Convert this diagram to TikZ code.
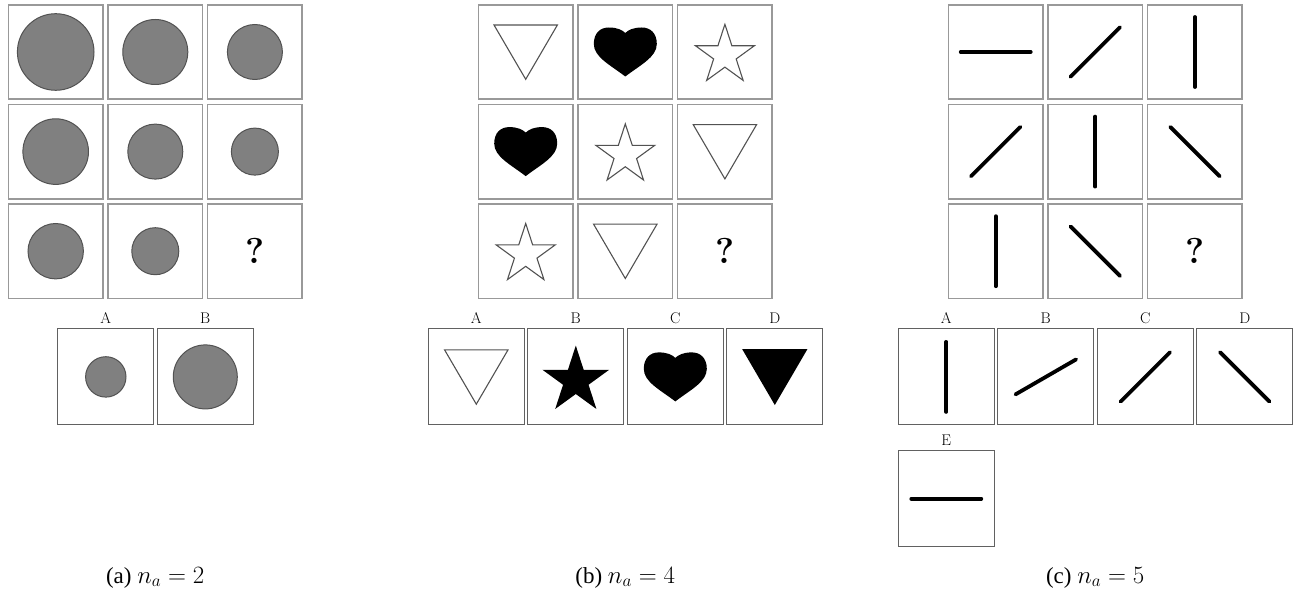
\documentclass[tikz,border=0pt]{standalone}
\usepackage{fontspec}
\newfontfamily\capfont{Liberation Serif}

\newcommand{\drawstick}[2]{\draw[stick] (#1) ++(-#2:35) -- ++(180-#2:70);}

\tikzset{
  cell/.style={draw=black!40, line width=1.6pt, minimum size=94.5pt, inner sep=0pt},
  optbox/.style={draw=black!62, line width=1pt, minimum size=96pt, inner sep=0pt},
  optname/.style={anchor=base, inner sep=0pt, font=\fontsize{15.5}{18}\selectfont},
  qmark/.style={inner sep=0pt, font=\fontsize{36}{40}\selectfont\bfseries},
  caption/.style={anchor=base, inner sep=0pt},
  disc/.style={fill=black!50, draw=black!68, line width=1pt},
  outline/.style={draw=black!68, line width=1.1pt},
  stick/.style={line width=3.8pt, line cap=round},
  tri/.pic={\path[pic actions] (-31.7,-27) -- (31.7,-27) -- (0,27.3) -- cycle;},
  star5/.pic={\path[pic actions, yshift=-3.3pt] (-90:31) -- (-54:11.85) -- (-18:31)
      -- (18:11.85) -- (54:31) -- (90:11.85) -- (126:31) -- (162:11.85)
      -- (198:31) -- (234:11.85) -- cycle;},
  heart/.pic={\path[pic actions] (0,24.5) .. controls (-15,13) and (-31.5,5) .. (-31.5,-8)
      .. controls (-31.5,-19) and (-25,-24.5) .. (-16.5,-24.5)
      .. controls (-8,-24.5) and (-3,-22) .. (0,-19)
      .. controls (3,-22) and (8,-24.5) .. (16.5,-24.5)
      .. controls (25,-24.5) and (31.5,-19) .. (31.5,-8)
      .. controls (31.5,5) and (15,13) .. (0,24.5) -- cycle;}
}

\begin{document}
\begin{tikzpicture}[x=1pt, y=-1pt]
  \useasboundingbox (0,0) rectangle (1298,593);

  % (a) circles
  \foreach \r in {1,2,3}
    \foreach \c in {1,2,3}
      \node[cell] (a\r\c) at ({55.7+99.6*(\c-1)},{52+99.6*(\r-1)}) {};
  \foreach \o [count=\k] in {A,B} {
    \node[optbox] (a\o) at ({6.3+99.5*\k},376.9) {};
    \node[optname] (lbl-a\o) at ([yshift=5pt]a\o.north) {\o};
  }

  \path[disc] (a11) circle (38.3pt);
  \path[disc] (a12) circle (32.5pt);
  \path[disc] (a13) circle (27.5pt);
  \path[disc] (a21) circle (32.8pt);
  \path[disc] (a22) circle (27.5pt);
  \path[disc] (a23) circle (23.5pt);
  \path[disc] (a31) circle (27.7pt);
  \path[disc] (a32) circle (23.5pt);
  \node[qmark] (qa) at (a33) {?};
  \path[disc] (aA) circle (20.2pt);
  \path[disc] (aB) circle (32pt);

  \node[caption] (capa) at (155.2,583) {\capfont\fontsize{23}{26}\selectfont (a) $n_a=2$};

  % (b) shapes
  \begin{scope}[shift={(470,0)}]
    \foreach \r in {1,2,3}
      \foreach \c in {1,2,3}
        \node[cell] (b\r\c) at ({55.7+99.6*(\c-1)},{52+99.6*(\r-1)}) {};
    \foreach \o [count=\k from 0] in {A,B,C,D} {
      \node[optbox] (b\o) at ({6.3+99.5*\k},376.9) {};
      \node[optname] (lbl-b\o) at ([yshift=5pt]b\o.north) {\o};
    }
    \node[caption] (capb) at (155.2,583) {\capfont\fontsize{23}{26}\selectfont (b) $n_a=4$};
  \end{scope}

  \pic[outline] at (b11) {tri};
  \pic[fill=black] at (b12) {heart};
  \pic[outline] at (b13) {star5};
  \pic[fill=black] at (b21) {heart};
  \pic[outline] at (b22) {star5};
  \pic[outline] at (b23) {tri};
  \pic[outline] at (b31) {star5};
  \pic[outline] at (b32) {tri};
  \node[qmark] (qb) at (b33) {?};

  \pic[outline] at (bA) {tri};
  \pic[fill=black, scale=1.13] at (bB) {star5};
  \pic[fill=black] at (bC) {heart};
  \pic[fill=black, scale=1.03] at (bD) {tri};

  % (c) sticks
  \begin{scope}[shift={(940,0)}]
    \foreach \r in {1,2,3}
      \foreach \c in {1,2,3}
        \node[cell] (c\r\c) at ({55.7+99.6*(\c-1)},{52+99.6*(\r-1)}) {};
    \foreach \o [count=\k from 0] in {A,B,C,D} {
      \node[optbox] (c\o) at ({6.3+99.5*\k},376.9) {};
      \node[optname] (lbl-c\o) at ([yshift=5pt]c\o.north) {\o};
    }
    \node[optbox] (cE) at (6.3,498.7) {};
    \node[optname] (lbl-cE) at ([yshift=5pt]cE.north) {E};
    \node[caption] (capc) at (155.2,583) {\capfont\fontsize{23}{26}\selectfont (c) $n_a=5$};
  \end{scope}

  \drawstick{c11}{0}
  \drawstick{c12}{45}
  \drawstick{c13}{90}
  \drawstick{c21}{45}
  \drawstick{c22}{90}
  \drawstick{c23}{135}
  \drawstick{c31}{90}
  \drawstick{c32}{135}
  \node[qmark] (qc) at (c33) {?};

  \drawstick{cA}{90}
  \drawstick{cB}{30}
  \drawstick{cC}{45}
  \drawstick{cD}{135}
  \drawstick{cE}{0}

\end{tikzpicture}
\end{document}
